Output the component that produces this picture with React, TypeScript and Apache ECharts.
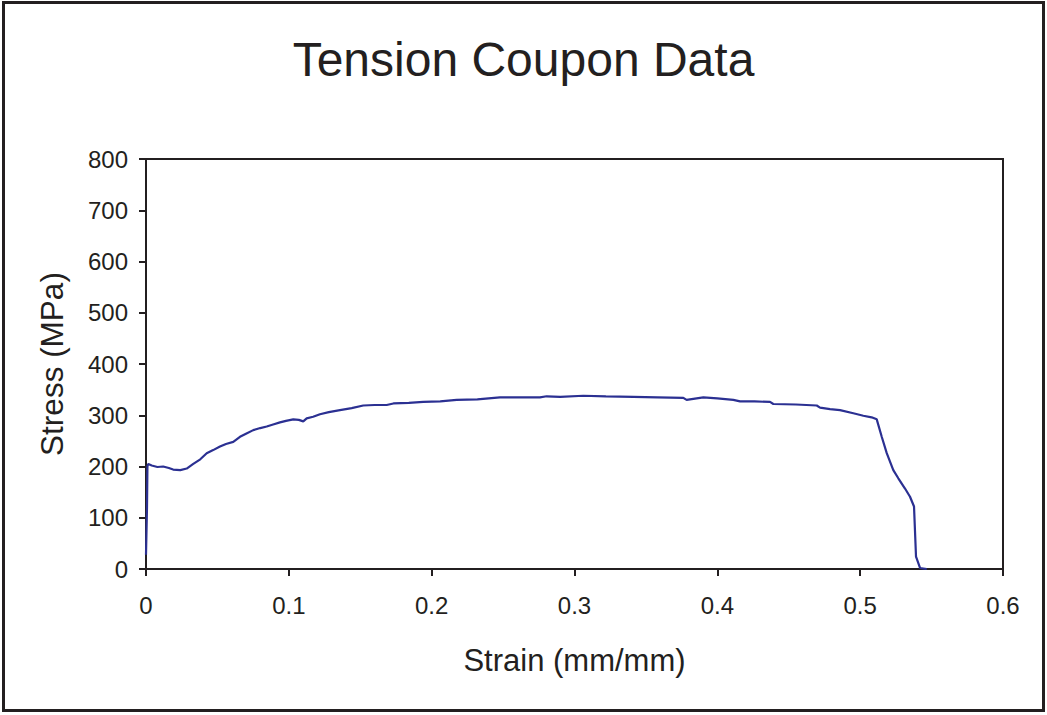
import React, { useEffect, useRef } from "react";
import * as echarts from "echarts";

const strain: number[] = [
  0, 0.0007, 0.001, 0.0016, 0.004, 0.008, 0.012, 0.016, 0.019, 0.024, 0.0285, 0.0331,
  0.038, 0.0425, 0.047, 0.0518, 0.056, 0.0611, 0.0658, 0.07, 0.0751, 0.08, 0.0845, 0.089,
  0.0938, 0.098, 0.1031, 0.107, 0.1101, 0.1125, 0.117, 0.1218, 0.128, 0.1358, 0.144, 0.1521,
  0.16, 0.1685, 0.1732, 0.184, 0.1941, 0.206, 0.2175, 0.232, 0.2478, 0.262, 0.2758, 0.2805,
  0.29, 0.3062, 0.322, 0.3412, 0.358, 0.3762, 0.3785, 0.3902, 0.4, 0.4112, 0.4159, 0.426,
  0.4369, 0.4392, 0.455, 0.4696, 0.4719, 0.4789, 0.4859, 0.4952, 0.5022, 0.508, 0.5116,
  0.5151, 0.5186, 0.5232, 0.5267, 0.5314, 0.5349, 0.5377, 0.5391, 0.5419, 0.5466,
];

const stress: number[] = [
  28, 120, 200, 205, 202, 199, 200, 197, 194, 193, 196, 205,
  214, 226, 232, 239, 244, 248, 258, 264, 271, 275, 278, 282,
  286, 289, 292, 291, 288, 294, 297, 302, 306, 310, 314, 319,
  320, 320, 323, 324, 326, 327, 330, 331, 335, 335, 335, 337,
  336, 338, 337, 336, 335, 334, 330, 335, 333, 330, 327, 327,
  326, 322, 321, 319, 315, 312, 310, 304, 299, 296, 292,
  258, 226, 193, 177, 157, 141, 122, 24, 2, 0,
];

const titleText = "Tension Coupon Data";
const xName = "Strain (mm/mm)";
const yName = "Stress (MPa)";

const TEXT = "#231f20";
const LINE = "#2b3092";
const FONT = "'Liberation Sans', Arial, sans-serif";

export default function App() {
  const ref = useRef<HTMLDivElement>(null);

  useEffect(() => {
    if (!ref.current) return;
    const chart = echarts.init(ref.current, null, { renderer: "svg" });
    const data = strain.map((s, i) => [s, stress[i]]);
    chart.setOption({
      animation: false,
      backgroundColor: "#ffffff",
      textStyle: { fontFamily: FONT, color: TEXT },
      title: {
        text: titleText,
        left: "center",
        top: 30,
        textStyle: { fontFamily: FONT, fontSize: 48, fontWeight: "normal", color: TEXT },
      },
      graphic: [
        {
          type: "rect",
          shape: { x: 3.5, y: 2.5, width: 1040, height: 708 },
          style: { fill: "none", stroke: TEXT, lineWidth: 3 },
          silent: true,
        },
      ],
      grid: {
        left: 146,
        top: 159,
        right: 44,
        bottom: 146,
        show: true,
        borderColor: TEXT,
        borderWidth: 2,
        backgroundColor: "transparent",
      },
      xAxis: {
        type: "value",
        min: 0,
        max: 0.6,
        interval: 0.1,
        name: xName,
        nameLocation: "middle",
        nameGap: 76,
        nameTextStyle: { fontFamily: FONT, fontSize: 31, color: TEXT },
        axisLine: { show: true, lineStyle: { color: TEXT, width: 2 } },
        axisTick: { show: true, inside: false, length: 7, lineStyle: { color: TEXT, width: 2 } },
        axisLabel: {
          fontFamily: FONT,
          fontSize: 24,
          color: TEXT,
          margin: 24,
          formatter: (v: number) => String(Number(v.toFixed(1))),
        },
        splitLine: { show: false },
      },
      yAxis: {
        type: "value",
        min: 0,
        max: 800,
        interval: 100,
        name: yName,
        nameLocation: "middle",
        nameGap: 78,
        nameTextStyle: { fontFamily: FONT, fontSize: 31.5, color: TEXT },
        axisLine: { show: true, lineStyle: { color: TEXT, width: 2 } },
        axisTick: { show: true, inside: false, length: 7, lineStyle: { color: TEXT, width: 2 } },
        axisLabel: { fontFamily: FONT, fontSize: 24, color: TEXT, margin: 18 },
        splitLine: { show: false },
      },
      series: [
        {
          type: "line",
          data,
          showSymbol: false,
          symbol: "none",
          lineStyle: { color: LINE, width: 2.2 },
          itemStyle: { color: LINE },
        },
      ],
    });
    return () => chart.dispose();
  }, []);

  return (
    <div
      ref={ref}
      style={{ position: "fixed", left: 0, top: 0, width: 1047, height: 715, background: "#fff" }}
    />
  );
}
